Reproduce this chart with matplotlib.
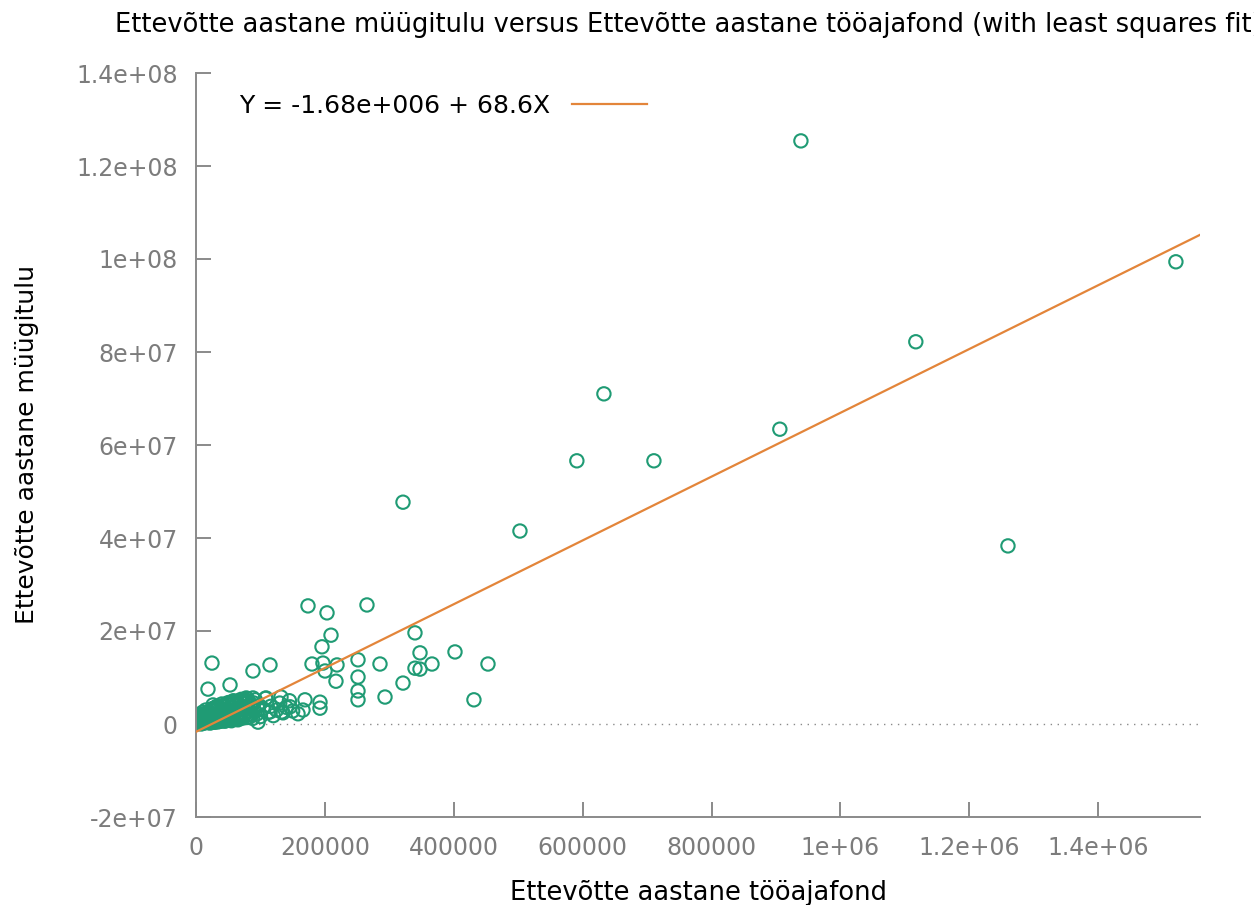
import matplotlib
matplotlib.use("Agg")
import matplotlib.pyplot as plt
from matplotlib.ticker import FixedLocator

plt.rcParams['font.family'] = ['DejaVu Sans']

title = "Ettevõtte aastane müügitulu versus Ettevõtte aastane tööajafond (with least squares fit)"
xlabel = "Ettevõtte aastane tööajafond"
ylabel = "Ettevõtte aastane müügitulu"
legend_label = "Y = -1.68e+006 + 68.6X"
intercept = -1.68e6
slope = 68.6

# Outlying / visible points (x: tööajafond, y: müügitulu)
x_big = [938700, 1520600, 1117000, 633000, 591000, 710600, 906000, 321200, 502700,
         1260000, 173800, 203300, 265300, 209500, 195500, 339800, 347600, 401900,
         453100, 366200, 285500, 339800, 347600, 180000, 197000, 218800, 200200,
         217200, 251400, 251400, 251400, 251400, 293300, 321200, 431300, 24800,
         114800, 88400, 18600, 52800, 26400, 88400, 108600, 131900, 169100,
         192400, 192400, 145900, 166000, 158300, 114800, 133000, 96200]
y_big = [125.4e6, 99.4e6, 82.2e6, 71.0e6, 56.6e6, 56.6e6, 63.4e6, 47.7e6, 41.5e6,
         38.3e6, 25.4e6, 23.9e6, 25.6e6, 19.1e6, 16.6e6, 19.6e6, 15.3e6, 15.5e6,
         12.9e6, 12.9e6, 12.9e6, 12.0e6, 11.8e6, 12.9e6, 13.1e6, 12.7e6, 11.4e6,
         9.2e6, 13.8e6, 10.1e6, 7.1e6, 5.2e6, 5.8e6, 8.8e6, 5.2e6, 13.1e6,
         12.7e6, 11.4e6, 7.5e6, 8.4e6, 4.1e6, 5.6e6, 5.6e6, 5.8e6, 5.2e6,
         4.7e6, 3.4e6, 3.7e6, 3.0e6, 2.2e6, 2.6e6, 2.6e6, 0.4e6]

# Dense cluster near the origin (thousands, millions)
x_small_k = [1, 1.5, 2, 2.5, 3, 3, 4, 4, 5, 5, 6, 7, 8, 9, 10, 10, 11, 12, 13, 14,
             15, 15, 16, 17, 18, 19, 20, 21, 22, 23, 24, 25, 26, 27, 28, 29, 30,
             31, 32, 33, 34, 35, 36, 37, 38, 39, 40, 41, 42, 43, 44, 45, 46, 47,
             48, 49, 50, 52, 54, 55, 56, 58, 60, 61, 62, 64, 66, 67, 68, 70, 72,
             74, 75, 77, 80, 82, 84, 86, 88, 90, 92, 95, 98, 100, 104, 108, 112,
             116, 120, 125, 130, 135, 140, 145, 150, 8, 12, 18, 22, 28, 35, 45,
             55, 65, 3, 6, 9, 14, 19, 25, 32, 40, 50, 58, 70, 78,
             2, 4, 6, 8, 10, 12, 14, 16, 18, 20, 24, 28, 32, 36, 40, 44, 48,
             52, 56, 60, 64, 68, 72, 76, 80, 85, 90, 1, 3, 5, 7, 9, 11, 13,
             17, 21, 26, 30, 34, 38, 42, 47, 53, 57, 63, 69, 73, 79, 83, 87]
y_small_m = [0.05, 0.5, 0.1, 1.0, 0.2, 1.5, 0.1, 2.0, 0.3, 0.8, 0.2, 0.5, 0.3, 0.6,
             0.4, 2.5, 0.8, 0.5, 0.9, 0.3, 1.0, 3.0, 0.7, 1.2, 0.4, 1.1, 0.8, 1.5,
             0.6, 1.3, 1.0, 1.8, 0.7, 1.4, 1.1, 2.0, 0.9, 1.6, 1.2, 2.2, 0.8, 1.7,
             1.3, 2.5, 1.0, 1.9, 1.5, 2.8, 1.1, 2.1, 1.6, 3.0, 1.2, 2.3, 1.8, 3.2,
             1.4, 2.6, 1.9, 3.5, 1.5, 2.8, 2.0, 3.9, 1.6, 3.0, 2.3, 4.2, 1.8, 3.3,
             2.5, 4.5, 1.9, 3.6, 2.7, 4.8, 2.0, 3.9, 1.2, 3.0, 5.2, 2.2, 4.0, 1.6,
             3.3, 5.5, 2.5, 3.8, 1.8, 3.0, 4.5, 2.4, 3.6, 5.0, 2.8, 0.0, 0.2,
             0.3, 0.2, 0.4, 0.5, 0.6, 0.7, 0.9, 0.6, 0.9, 1.6, 1.9, 2.4, 3.3,
             3.8, 4.3, 4.6, 5.0, 5.3, 5.6,
             0.6, 1.2, 1.0, 1.8, 1.4, 2.0, 1.7, 2.3, 2.1, 2.6, 2.9, 3.1, 3.4,
             3.6, 3.8, 4.1, 4.3, 4.4, 4.6, 4.7, 4.9, 5.0, 5.1, 5.2, 5.4, 4.2,
             4.5, 0.3, 0.7, 1.3, 0.9, 1.7, 1.9, 2.2, 0.6, 0.5, 0.4, 0.4, 0.5,
             0.6, 0.7, 0.8, 0.9, 1.0, 1.1, 1.2, 1.3, 1.4, 1.5, 2.0]

xticks = [0, 200000, 400000, 600000, 800000, 1000000, 1200000, 1400000]
xtick_labels = ["0", "200000", "400000", "600000", "800000", "1e+06", "1.2e+06", "1.4e+06"]
yticks = [-2e7, 0, 2e7, 4e7, 6e7, 8e7, 1e8, 1.2e8, 1.4e8]
ytick_labels = ["-2e+07", "0", "2e+07", "4e+07", "6e+07", "8e+07", "1e+08", "1.2e+08", "1.4e+08"]

x_all = x_big + [v * 1000 for v in x_small_k]
y_all = y_big + [v * 1e6 for v in y_small_m]

green = "#1f9b74"
orange = "#e3853a"
gray = "#8a8a8a"

fig = plt.figure(figsize=(12.54, 9.05), dpi=100)
ax = fig.add_axes([196/1254, 1 - 817/905, (1200-196)/1254, (817-73)/905])

xmax = 1.558e6
ax.set_xlim(0, xmax)
ax.set_ylim(-2e7, 1.4e8)

ax.axhline(0, color=gray, lw=1.0, ls=(0, (1, 4)), zorder=1)
ax.scatter(x_all, y_all, s=92, facecolors='none', edgecolors=green, linewidths=1.5,
           zorder=2)
ax.plot([0, xmax], [intercept, intercept + slope * xmax], color=orange, lw=1.6,
        label=legend_label, zorder=3)

for s in ['top', 'right']:
    ax.spines[s].set_visible(False)
for s in ['left', 'bottom']:
    ax.spines[s].set_color(gray)
    ax.spines[s].set_linewidth(1.4)

ax.xaxis.set_major_locator(FixedLocator(xticks))
ax.set_xticklabels(xtick_labels)
ax.yaxis.set_major_locator(FixedLocator(yticks))
ax.set_yticklabels(ytick_labels)
ax.tick_params(axis='both', direction='in', length=11, width=1.4, color=gray,
               labelcolor="#7c7c7c", labelsize=17)
ax.tick_params(axis='y', pad=13)
ax.tick_params(axis='x', pad=14)

ax.set_xlabel(xlabel, fontsize=18.5)
ax.xaxis.set_label_coords(0.5, -(893 - 817) / (817 - 73), transform=ax.transAxes)
ax.xaxis.label.set_va('center')
ax.set_ylabel(ylabel, fontsize=18)
ax.yaxis.set_label_coords(-(196 - 27) / (1200 - 196), 0.5, transform=ax.transAxes)
ax.yaxis.label.set_va('center')
fig.text(115/1254, 1 - 25/905, title, fontsize=18.5, ha='left', va='center')

ax.legend(loc='upper left', frameon=False, markerfirst=False, fontsize=18,
          handlelength=3.0, handletextpad=0.9, bbox_to_anchor=(0.025, 0.995), borderaxespad=0.3)

fig.savefig("out.png", dpi=100)
